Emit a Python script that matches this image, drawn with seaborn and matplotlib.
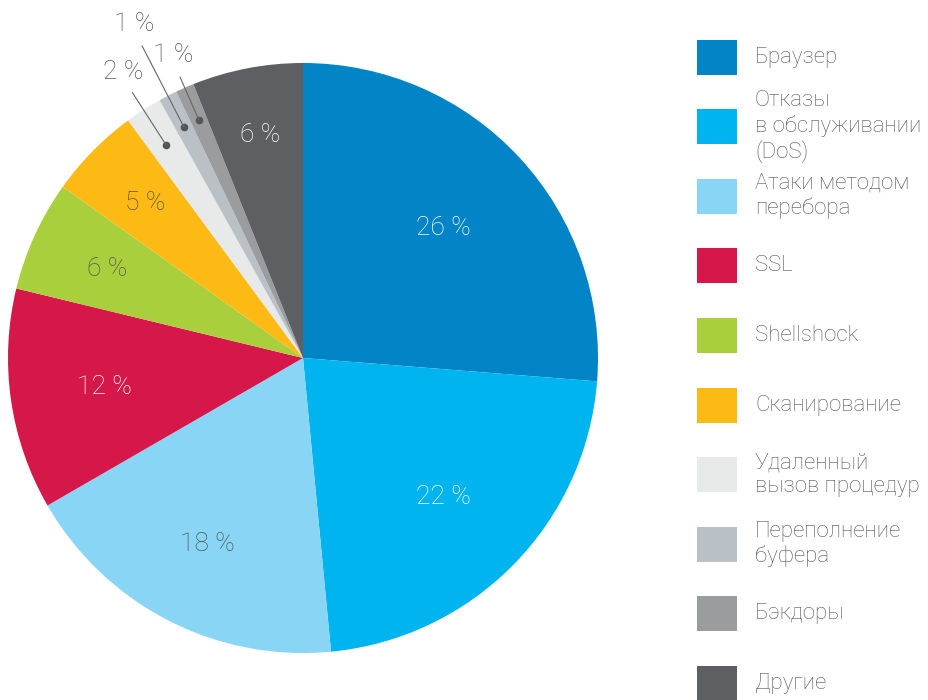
import numpy as np
import matplotlib.pyplot as plt
import seaborn as sns
from matplotlib.patches import Rectangle

categories = ['Браузер', 'Отказы\nв обслуживании\n(DoS)', 'Атаки методом\nперебора', 'SSL',
              'Shellshock', 'Сканирование', 'Удаленный\nвызов процедур',
              'Переполнение\nбуфера', 'Бэкдоры', 'Другие']
shares = [26, 22, 18, 12, 6, 5, 2, 1, 1, 6]
colors = ['#0284c7', '#00b4ef', '#88d5f6', '#d6174a', '#aacf3c',
          '#fdb914', '#e8eaea', '#b9c1c7', '#9b9c9e', '#5e5f63']
label_colors = ['white', 'white', '#555555', 'white', '#555555',
                '#555555', '#555555', '#555555', '#555555', 'white']

sns.set_theme(style='white')
plt.rcParams['font.family'] = ['Roboto', 'DejaVu Sans']

fig = plt.figure(figsize=(9.29, 7), dpi=100)

# pie axes: centre ~ (303, 358) px, radius ~295 px
ax = fig.add_axes([-51 / 929, -12 / 700, 708 / 929, 708 / 700])
wedges, _ = ax.pie(shares, colors=colors, startangle=90, counterclock=False,
                   wedgeprops=dict(linewidth=0))
ax.set_xlim(-1.2, 1.2)
ax.set_ylim(-1.2, 1.2)
ax.set_aspect('equal')
ax.axis('off')

# inside labels (distance from centre varies a bit per slice)
inner_r = [0.65, 0.67, 0.71, 0.68, 0.73, 0.75, None, None, None, 0.77]
# outside labels for the tiny slices: (dot radius, text radius)
outer = {6: (0.86, 1.13), 7: (0.88, 1.25), 8: (0.88, 1.10)}

for i, w in enumerate(wedges):
    mid = np.deg2rad((w.theta1 + w.theta2) / 2)
    txt = f'{shares[i]} %'
    if inner_r[i] is not None:
        r = inner_r[i]
        ax.text(r * np.cos(mid), r * np.sin(mid), txt, ha='center', va='center',
                fontsize=19, color=label_colors[i], fontweight='light')
    else:
        r0, r1 = outer[i]
        c, s = np.cos(mid), np.sin(mid)
        ax.plot([r0 * c], [r0 * s], 'o', color='#555555', markersize=4.5)
        ax.plot([r0 * c, (r1 - 0.06) * c], [r0 * s, (r1 - 0.06) * s],
                color='#666666', linewidth=0.8)
        ax.text(r1 * c, r1 * s + 0.02, txt, ha='center', va='center', fontsize=19,
                color='#555555', fontweight='light')

# legend, drawn by hand so rows are evenly spaced
lax = fig.add_axes([690 / 929, 0, 239 / 929, 1])
lax.set_xlim(0, 239)
lax.set_ylim(700, 0)
lax.axis('off')
for i, (name, col) in enumerate(zip(categories, colors)):
    yc = 57 + 69.6 * i
    lax.add_patch(Rectangle((7, yc - 17.5), 40, 35, facecolor=col, edgecolor='none'))
    lax.text(65, yc, name, ha='left', va='center', fontsize=16, color='#555555',
             linespacing=1.2, fontweight='light')

fig.savefig('out.png', dpi=100)
